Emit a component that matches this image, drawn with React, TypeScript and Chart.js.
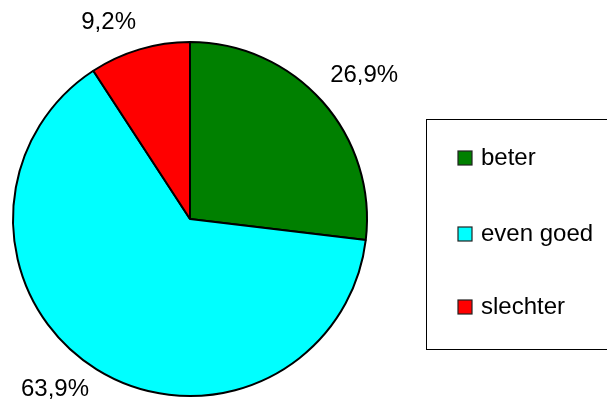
import React, { useEffect, useRef } from "react";
import { Chart, registerables } from "chart.js";

Chart.register(...registerables);

const categories = ["beter", "even goed", "slechter"];
const values = [26.9, 63.9, 9.2];
const valueLabels = ["26,9%", "63,9%", "9,2%"];
const colors = ["#008000", "#00FFFF", "#FF0000"];

// label placement tweaks (angle shift in degrees, extra distance beyond the rim)
const labelAngleShift = [2, 6.6, -5.9];
const labelExtra = [49, 40, 36];

const FONT = "24px 'Liberation Sans', Arial, sans-serif";

const labelPlugin = {
  id: "outsideLabels",
  afterDatasetsDraw(chart: any) {
    const ctx = chart.ctx;
    const meta = chart.getDatasetMeta(0);
    ctx.save();
    ctx.font = FONT;
    ctx.fillStyle = "#000";
    ctx.textAlign = "center";
    ctx.textBaseline = "middle";
    meta.data.forEach((arc: any, i: number) => {
      const p = arc.getProps(["x", "y", "startAngle", "endAngle", "outerRadius"], true);
      const mid = (p.startAngle + p.endAngle) / 2 + (labelAngleShift[i] * Math.PI) / 180;
      const r = p.outerRadius + labelExtra[i];
      ctx.fillText(valueLabels[i], p.x + Math.cos(mid) * r, p.y + Math.sin(mid) * r);
    });
    ctx.restore();
  },
};

const legendPlugin = {
  id: "boxLegend",
  afterDraw(chart: any) {
    const ctx = chart.ctx;
    ctx.save();
    ctx.strokeStyle = "#000";
    ctx.lineWidth = 1;
    ctx.strokeRect(426.5, 119.5, 200, 230);
    ctx.font = FONT;
    ctx.textAlign = "left";
    ctx.textBaseline = "alphabetic";
    const baselines = [165, 241, 314];
    categories.forEach((c, i) => {
      const b = baselines[i];
      ctx.fillStyle = colors[i];
      ctx.fillRect(458, b - 14, 14, 14);
      ctx.lineWidth = 1.2;
      ctx.strokeStyle = "#222";
      ctx.strokeRect(458, b - 14, 14, 14);
      ctx.fillStyle = "#000";
      ctx.fillText(c, 481, b);
    });
    ctx.restore();
  },
};

export default function App() {
  const ref = useRef<HTMLCanvasElement>(null);
  useEffect(() => {
    document.body.style.margin = "0";
    const chart = new Chart(ref.current!, {
      type: "pie",
      data: {
        labels: categories,
        datasets: [
          {
            data: values,
            backgroundColor: colors,
            borderColor: "#000",
            borderWidth: 2,
          },
        ],
      },
      options: {
        responsive: false,
        animation: false,
        layout: { padding: { left: 12, top: 41, right: 239, bottom: 8 } },
        plugins: { legend: { display: false }, tooltip: { enabled: false } },
      },
      plugins: [labelPlugin, legendPlugin],
    });
    return () => chart.destroy();
  }, []);
  return (
    <div style={{ position: "absolute", left: 0, top: 0, width: 607, height: 405, background: "#fff" }}>
      <canvas ref={ref} width={607} height={405} />
    </div>
  );
}
